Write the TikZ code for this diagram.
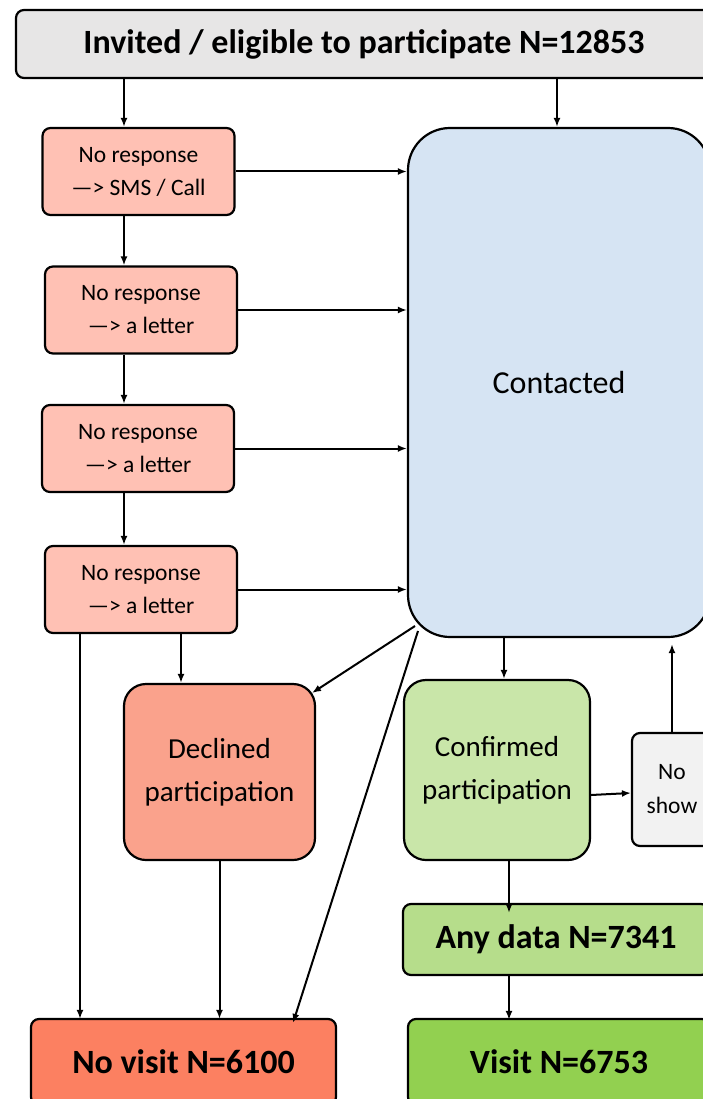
\documentclass[tikz,border=0pt]{standalone}
\usepackage{fontspec}
\setmainfont{Carlito}
\usetikzlibrary{arrows.meta}
\definecolor{cgray}{RGB}{231,230,230}
\definecolor{cpink}{RGB}{255,193,180}
\definecolor{cblue}{RGB}{214,228,243}
\definecolor{cdecl}{RGB}{250,162,140}
\definecolor{cnovis}{RGB}{252,128,97}
\definecolor{cconf}{RGB}{201,230,169}
\definecolor{cany}{RGB}{182,221,139}
\definecolor{cvis}{RGB}{146,208,80}
\definecolor{cns}{RGB}{242,242,242}
\begin{document}
\begin{tikzpicture}[x=1pt,y=-1pt,
  box/.style={draw=black, line width=2.2pt, rounded corners=8pt, align=center, inner sep=0pt},
  small/.style={box, font=\fontsize{23.5}{33}\selectfont, fill=cpink, minimum width=192pt, minimum height=87pt},
  big/.style={box, rounded corners=22pt, font=\fontsize{29}{43}\selectfont},
  bold/.style={box, font=\fontsize{34}{40}\selectfont\bfseries},
  arr/.style={-{Latex[length=9pt,width=7pt]}, line width=2pt}]
\useasboundingbox (0,0) rectangle (703,1099);
\clip (0,0) rectangle (703,1099);
\fill[white] (0,0) rectangle (703,1099);
% nodes
\node[bold, fill=cgray, minimum width=696pt, minimum height=68pt] (top) at (364,44) {Invited / eligible to participate N=12853};
\node[small] (b1) at (138.5,171.5) {No response\\—> SMS / Call};
\node[small] (b2) at (141,310) {No response\\—> a letter};
\node[small] (b3) at (138,448.5) {No response\\—> a letter};
\node[small] (b4) at (141,589.5) {No response\\—> a letter};
\node[box, rounded corners=42pt, fill=cblue, minimum width=302pt, minimum height=509pt, font=\fontsize{32}{36}\selectfont] (con) at (559,382.5) {Contacted};
\node[big, fill=cdecl, minimum width=191pt, minimum height=176pt] (dec) at (219.5,772) {Declined\\participation};
\node[big, fill=cconf, minimum width=186pt, minimum height=180pt] (conf) at (497,770) {Confirmed\\participation};
\node[box, fill=cns, minimum width=80pt, minimum height=113pt, font=\fontsize{23.5}{34}\selectfont] (ns) at (672,789.5) {No\\show};
\node[bold, fill=cany, minimum width=306pt, minimum height=71pt] (any) at (556,939.5) {Any data N=7341};
\node[bold, fill=cnovis, minimum width=305pt, minimum height=86pt] (nv) at (183.5,1062) {No visit N=6100};
\node[bold, fill=cvis, minimum width=302pt, minimum height=86pt] (vis) at (559,1062) {Visit N=6753};
% helper coordinates
\coordinate (xl) at (124,0);
\coordinate (xr) at (557,0);
\coordinate (xa) at (80,0);
\coordinate (xd) at (181,0);
\coordinate (xc) at (504,0);
\coordinate (xv) at (509,0);
\coordinate (c1) at (415,626);
\coordinate (c2) at (418,631);
\coordinate (d1) at (312,693);
\coordinate (n1) at (293,0);
% connectors
\draw[arr] (top.south -| xl) -- (b1.north -| xl);
\draw[arr] (top.south -| xr) -- (con.north -| xr);
\draw[arr] (b1.south -| xl) -- (b2.north -| xl);
\draw[arr] (b2.south -| xl) -- (b3.north -| xl);
\draw[arr] (b3.south -| xl) -- (b4.north -| xl);
\draw[arr] (b1.east) -- (b1.east -| con.west);
\draw[arr] (b2.east) -- (b2.east -| con.west);
\draw[arr] (b3.east) -- (b3.east -| con.west);
\draw[arr] (b4.east) -- (b4.east -| con.west);
\draw[arr] (b4.south -| xa) -- ([yshift=-1pt]nv.north -| xa);
\draw[arr] (b4.south -| xd) -- (dec.north -| xd);
\draw[arr] (c1) -- (d1);
\draw[arr] (c2) -- ([yshift=-5pt]nv.north -| n1);
\draw[arr] (dec.south) -- ([yshift=-1pt]nv.north -| dec.south);
\draw[arr] (con.south -| xc) -- (conf.north -| xc);
\draw[arr] (conf.east |- 0,795) -- (ns.west |- 0,793);
\draw[arr] (ns.north) -- ([yshift=-6pt]con.south -| ns.north);
\draw[arr] (conf.south -| xv) -- ([yshift=-10pt]any.north -| xv);
\draw[arr] (any.south -| xv) -- ([yshift=-2pt]vis.north -| xv);
\end{tikzpicture}
\end{document}
